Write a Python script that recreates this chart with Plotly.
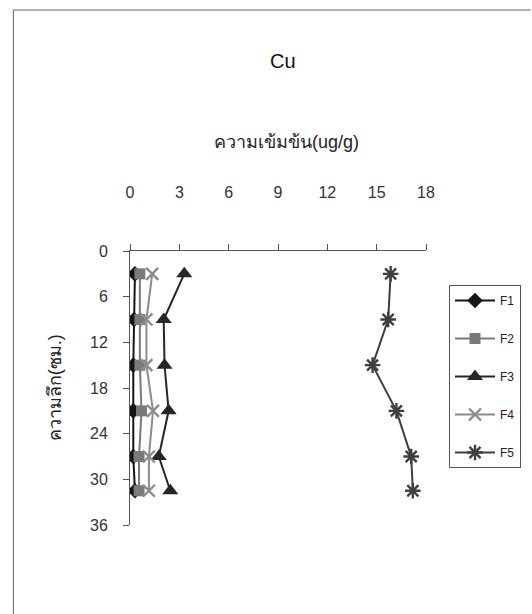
import plotly.graph_objects as go

# Depth of each sampling layer (cm)
depth = [3, 9, 15, 21, 27, 31.5]

# Cu concentration (ug/g) per fraction
f1 = [0.3, 0.25, 0.2, 0.2, 0.2, 0.3]
f2 = [0.6, 0.6, 0.6, 0.7, 0.55, 0.55]
f3 = [3.3, 2.05, 2.1, 2.35, 1.75, 2.45]
f4 = [1.35, 1.0, 1.0, 1.4, 1.15, 1.15]
f5 = [15.85, 15.7, 14.75, 16.2, 17.1, 17.2]

series_names = ["F1", "F2", "F3", "F4", "F5"]
x_ticks = [0, 3, 6, 9, 12, 15, 18]
y_ticks = [0, 6, 12, 18, 24, 30, 36]

W, H = 532, 614
L, R, T, B = 130, 105, 251, 89
PW, PH = W - L - R, H - T - B


def px_x(p):
    return (p - L) / PW


def px_y(p):
    return (H - B - p) / PH


styles = [
    dict(color="#151515", symbol="diamond", size=12, lw=0),
    dict(color="#7a7a7a", symbol="square", size=11, lw=0),
    dict(color="#262626", symbol="triangle-up", size=14, lw=0),
    dict(color="#8c8c8c", symbol="x-thin-open", size=12, lw=2.4),
    dict(color="#3f3f3f", symbol="asterisk-open", size=13, lw=2.4),
]

fig = go.Figure()
for name, vals, st in zip(series_names, [f1, f2, f3, f4, f5], styles):
    fig.add_trace(go.Scatter(
        x=vals, y=depth, name=name, mode="lines+markers",
        legendgroup=name,
        line=dict(color=st["color"], width=2),
        marker=dict(symbol=st["symbol"], size=st["size"], color=st["color"],
                    line=dict(color=st["color"], width=st["lw"])),
    ))

font_family = "Liberation Sans, Arial, sans-serif"

fig.update_layout(
    width=W, height=H,
    margin=dict(l=L, r=R, t=T, b=B),
    paper_bgcolor="white", plot_bgcolor="white",
    font=dict(family=font_family, color="#222", size=16),
    showlegend=True,
    legend=dict(
        x=px_x(449), y=px_y(285), xanchor="left", yanchor="top",
        bgcolor="white", bordercolor="#555", borderwidth=1,
        font=dict(size=12, color="#222"),
        tracegroupgap=19, itemwidth=40,
    ),
    xaxis=dict(
        range=[0, 18], side="top", tickvals=x_ticks,
        showgrid=False, zeroline=False,
        showline=True, linecolor="#555", linewidth=1,
        ticks="outside", ticklen=6, tickcolor="#555",
        ticklabelstandoff=40,
        tickfont=dict(size=16, color="#333"),
    ),
    yaxis=dict(
        range=[36, 0], tickvals=y_ticks,
        showgrid=False, zeroline=False,
        showline=True, linecolor="#555", linewidth=1,
        ticks="outside", ticklen=6, tickcolor="#555",
        ticklabelstandoff=12,
        tickfont=dict(size=16, color="#333"),
    ),
    annotations=[
        dict(text="Cu", x=px_x(284), y=px_y(48), xref="paper", yref="paper",
             showarrow=False, font=dict(size=20, color="#111")),
        dict(text="ความเข้มข้น(ug/g)", x=px_x(287), y=px_y(130),
             xref="paper", yref="paper", showarrow=False,
             font=dict(size=18, color="#222")),
        dict(text="ความลึก(ซม.)", x=px_x(43), y=px_y(388),
             xref="paper", yref="paper", showarrow=False, textangle=-90,
             font=dict(size=18, color="#222")),
    ],
    shapes=[
        # frame around the chart area
        dict(type="line", xref="paper", yref="paper",
             x0=px_x(13), x1=px_x(13), y0=px_y(10), y1=px_y(614),
             line=dict(color="#666", width=1)),
        dict(type="line", xref="paper", yref="paper",
             x0=px_x(13), x1=px_x(532), y0=px_y(10), y1=px_y(10),
             line=dict(color="#666", width=1)),
    ],
)

fig.write_html("out.html")
